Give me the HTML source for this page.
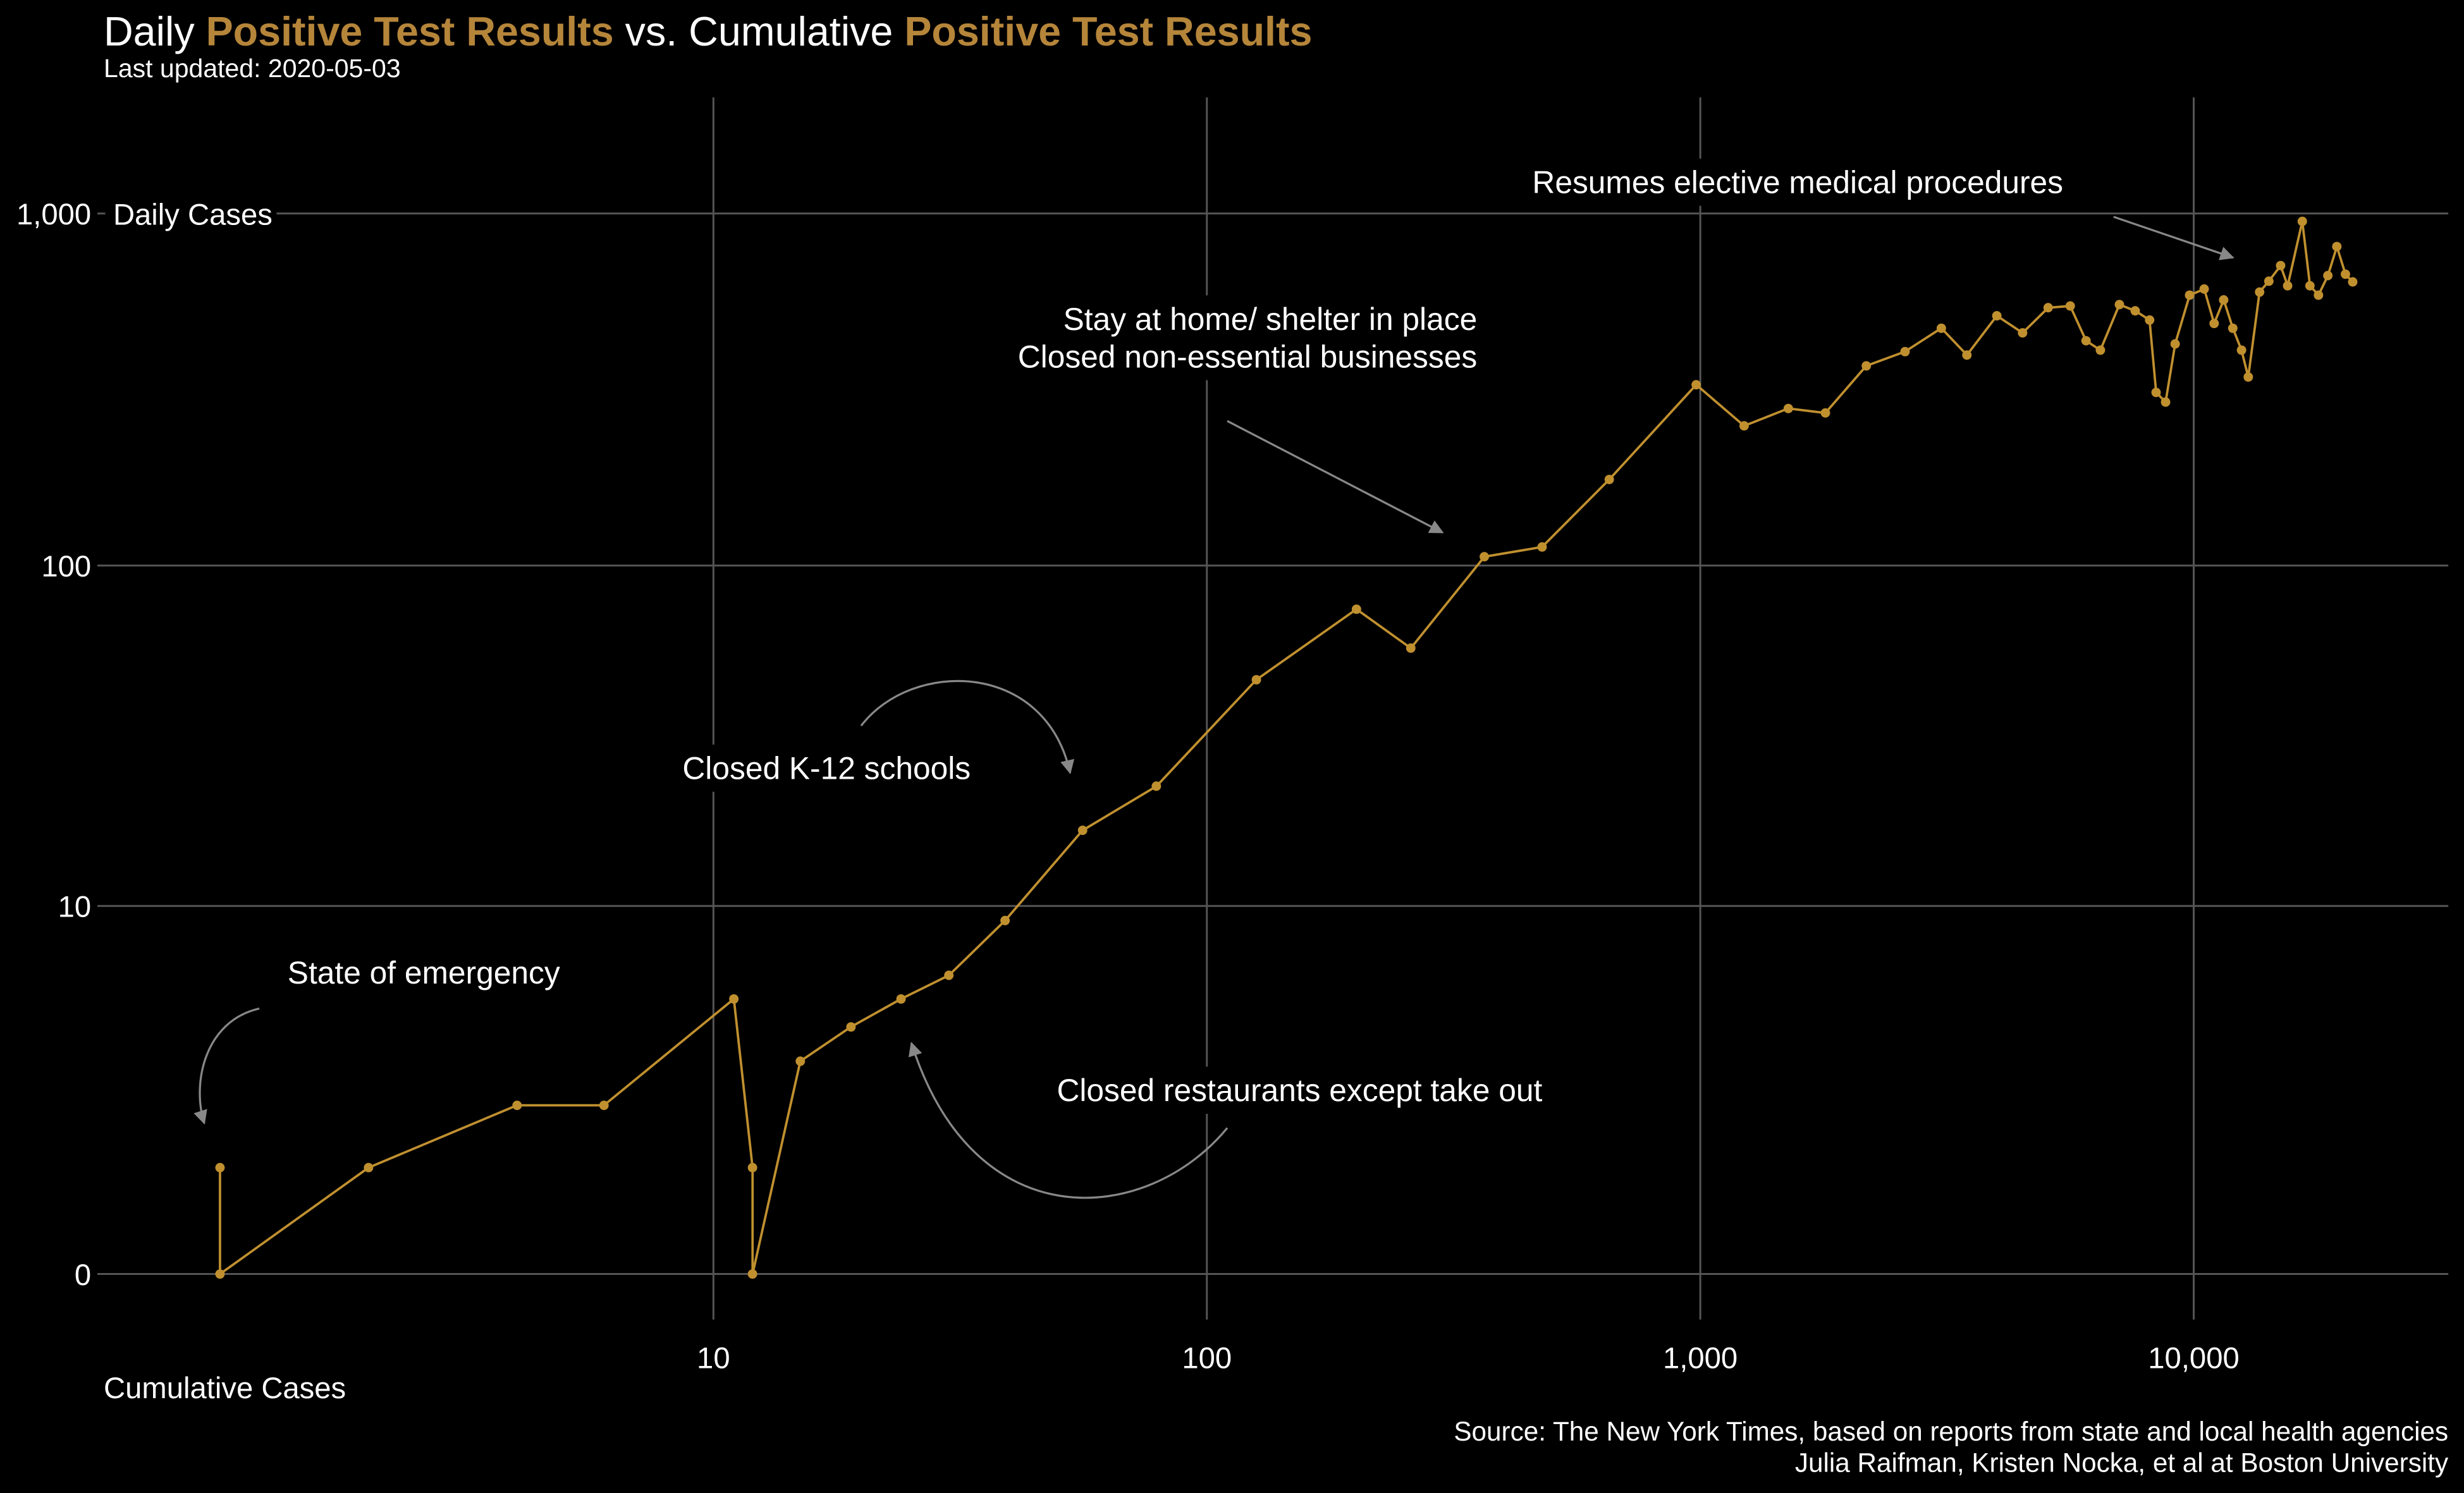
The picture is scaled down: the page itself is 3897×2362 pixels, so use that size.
<!DOCTYPE html>
<html><head><meta charset="utf-8"><style>
html,body{margin:0;padding:0;background:#000;}
svg{display:block;}
text{font-family:"Liberation Sans",sans-serif;fill:#fff;}
</style></head><body>
<svg id="chart" width="3897" height="2362" viewBox="0 0 1568 950.4" preserveAspectRatio="none" xmlns="http://www.w3.org/2000/svg">
<rect width="1568" height="951" fill="#000"/>
<text x="66" y="29" font-size="26">Daily <tspan fill="#b5853a" font-weight="bold">Positive Test Results</tspan> vs. Cumulative <tspan fill="#b5853a" font-weight="bold">Positive Test Results</tspan></text>
<text x="66" y="49" font-size="16.5">Last updated: 2020-05-03</text>
<g id="grid"></g>
<g id="annot"></g>
<g id="series"></g>
<g id="axes"></g>
<text x="1558" y="917" font-size="17" text-anchor="end">Source: The New York Times, based on reports from state and local health agencies</text>
<text x="1558" y="937" font-size="17" text-anchor="end">Julia Raifman,  Kristen Nocka, et al at Boston University</text>
</svg>
<script>
const cumulative=[1,1,2,4,6,11,12,12,15,19,24,30,39,56,79,126,201,259,365,478,654,981,1227,1508,1793,2170,2600,3080,3470,3990,4500,5070,5620,6050,6470,7070,7610,8140,8390,8770,9170,9810,10500,11000,11500,12000,12500,12900,13600,14200,15000,15500,16600,17200,17900,18700,19500,20300,21000];
const daily=[1,0,1,2,2,5,1,0,3,4,5,6,9,17,23,47,75,58,106,113,176,327,250,280,272,370,406,473,397,513,459,541,547,436,410,552,530,499,311,292,427,587,611,488,569,473,410,344,599,643,712,624,950,624,587,667,806,673,640];
const xTicks=[10,100,1000,10000];
const xTickLabels=["10","100","1,000","10,000"];
const yTicks=[0,10,100,1000];
const yTickLabels=["0","10","100","1,000"];
const NS="http://www.w3.org/2000/svg";
const xs=c=>140+314*Math.log10(c);
const ys=v=>811-225*Math.log10(v+1);
function mk(tag,attrs,parent){const e=document.createElementNS(NS,tag);for(const k in attrs)e.setAttribute(k,attrs[k]);parent.appendChild(e);return e;}
const grid=document.getElementById('grid'),axes=document.getElementById('axes'),ser=document.getElementById('series'),ann=document.getElementById('annot');
yTicks.forEach((t,i)=>{
  const y=ys(t);
  const x0=t===1000?176:62;
  const l=mk('line',{x1:x0,x2:1558,y1:y,y2:y,stroke:'#555','stroke-width':1.2},grid);
  
  
  const tx=mk('text',{x:58,y:y+7,'font-size':19,'text-anchor':'end'},axes);
  tx.textContent=yTickLabels[i];
  
  
});
mk('line',{x1:62,x2:67,y1:ys(1000),y2:ys(1000),stroke:'#555','stroke-width':1.2},grid);
xTicks.forEach((t,i)=>{
  const x=xs(t);
  const l=mk('line',{x1:x,x2:x,y1:62,y2:840,stroke:'#555','stroke-width':1.2},grid);
  
  
  const tx=mk('text',{x:x,y:871,'font-size':19,'text-anchor':'middle'},axes);
  tx.textContent=xTickLabels[i];
  
  
});
const yl=mk('text',{x:72,y:143,'font-size':19},axes);yl.textContent='Daily Cases';


const xl=mk('text',{x:66,y:890,'font-size':19},axes);xl.textContent='Cumulative Cases';


// annotations
const defs=mk('defs',{},ann);
const mkr=mk('marker',{id:'ah',viewBox:'0 0 10 10',refX:9,refY:5,markerWidth:9,markerHeight:9,orient:'auto',markerUnits:'userSpaceOnUse'},defs);
mk('path',{d:'M0,0 L10,5 L0,10 z',fill:'#888'},mkr);
const labels=[
 {x:183,y:626,a:'start',t:['State of emergency'],n:'label-state-of-emergency'},
 {x:526,y:496,a:'middle',t:['Closed K-12 schools'],n:'label-closed-schools'},
 {x:940,y:210,a:'end',t:['Stay at home/ shelter in place','Closed non-essential businesses'],n:'label-stay-at-home'},
 {x:827,y:701,a:'middle',t:['Closed restaurants except take out'],n:'label-closed-restaurants'},
 {x:1144,y:123,a:'middle',t:['Resumes elective medical procedures'],n:'label-elective-procedures'}
];
const arrows=[
 ['M165,642 C130,650 122,690 130,715','arrow-state-of-emergency'],
 ['M548,462 C580,420 665,420 681,492','arrow-closed-schools'],
 ['M781,718 C730,780 620,790 580,664','arrow-closed-restaurants'],
 ['M781,268 L918,339','arrow-stay-at-home'],
 ['M1345,138 L1421,164','arrow-elective-procedures']
];
labels.forEach(L=>{
  const g=mk('g',{},ann);
  
  
  const w=Math.max(...L.t.map(s=>s.length))*9.6;
  const x0=L.a==='start'?L.x:L.a==='end'?L.x-w:L.x-w/2;
  mk('rect',{x:x0-4,y:L.y-22,width:w+8,height:24*L.t.length+6,fill:'#000'},g);
  L.t.forEach((s,i)=>{const t=mk('text',{x:L.x,y:L.y+i*24,'font-size':20,'text-anchor':L.a},g);t.textContent=s;});
});
arrows.forEach(A=>{
  const p=mk('path',{d:A[0],fill:'none',stroke:'#888','stroke-width':1.3,'marker-end':'url(#ah)'},ann);
  
  
});
// series
const pts=cumulative.map((c,i)=>xs(c).toFixed(1)+','+ys(daily[i]).toFixed(1)).join(' ');
const line=mk('polyline',{points:pts,fill:'none',stroke:'#c0902f','stroke-width':1.5},ser);


cumulative.forEach((c,i)=>{
  const p=mk('circle',{cx:xs(c),cy:ys(daily[i]),r:3,fill:'#c0902f'},ser);
  
  
});
</script>
</body></html>
